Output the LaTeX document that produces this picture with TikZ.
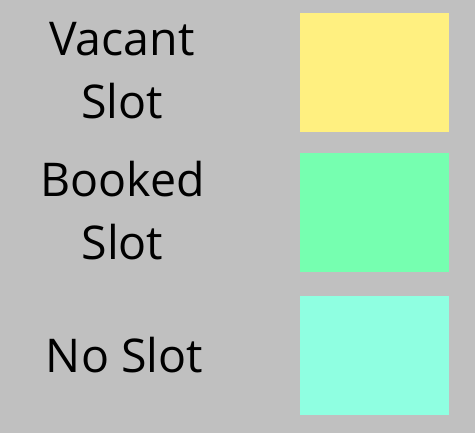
\documentclass[tikz,border=0pt]{standalone}
\usepackage{fontspec}
\setmainfont{Open Sans}
\definecolor{slotgray}{RGB}{192,192,192}
\definecolor{vacantcol}{RGB}{255,240,128}
\definecolor{bookedcol}{RGB}{118,255,176}
\definecolor{noslotcol}{RGB}{143,255,225}
\begin{document}
\begin{tikzpicture}[x=1pt,y=-1pt,
  slotbox/.style={rectangle,minimum width=149pt,minimum height=119pt,inner sep=0pt},
  slotlabel/.style={align=center,anchor=base,inner sep=0pt,font=\fontsize{46.5}{63}\selectfont}]
%background
\useasboundingbox (0,0) rectangle (475,433);
\fill[slotgray] (0,0) rectangle (475,433);
%labels
\node[slotlabel] (vacant) at (122,119) {Vacant\\Slot};
\node[slotlabel] (booked) at (122.5,260) {Booked\\Slot};
\node[slotlabel] (noslot) at (124.5,373) {No Slot};
%boxes
\node[slotbox,fill=vacantcol] (vacantbox) at (374.5,72.3) {};
\node[slotbox,fill=bookedcol] (bookedbox) at (374.5,212.2) {};
\node[slotbox,fill=noslotcol] (noslotbox) at (374.5,356) {};
\end{tikzpicture}
\end{document}
